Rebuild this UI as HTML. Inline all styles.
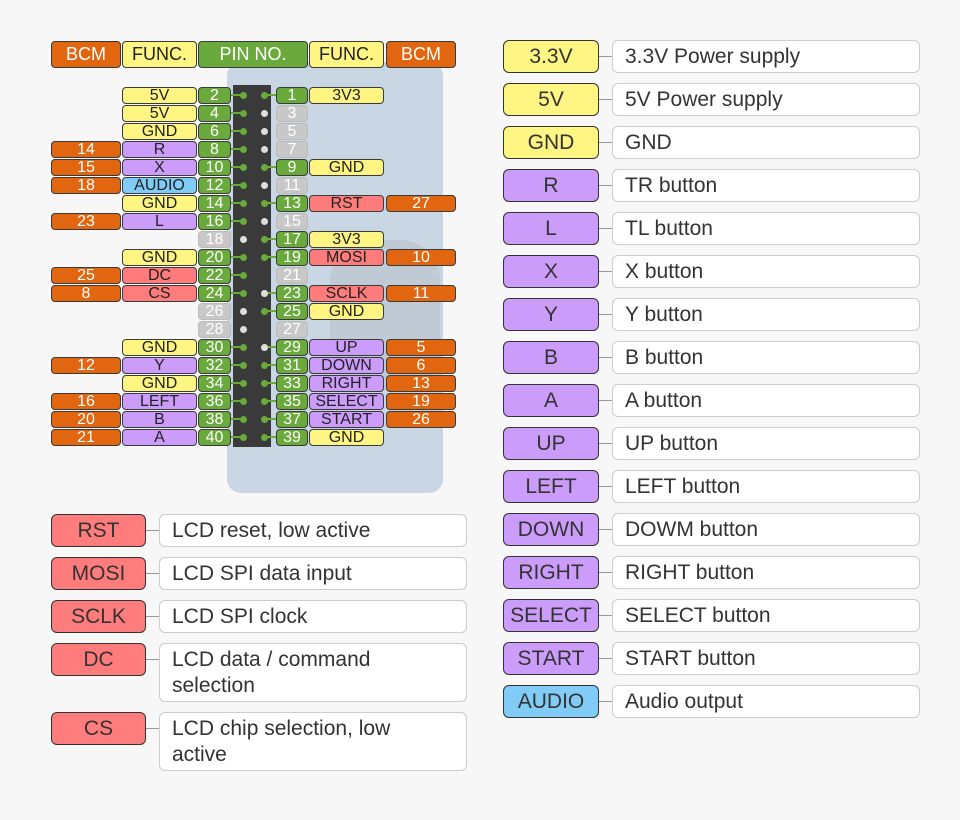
<!DOCTYPE html>
<html><head><meta charset="utf-8"><style>
body{margin:0;width:960px;height:820px;background:#f7f7f7;position:relative;overflow:hidden;font-family:"Liberation Sans","DejaVu Sans",sans-serif}
div{position:absolute;box-sizing:border-box}
.b{height:17px;border:1px solid #3a3a3a;border-radius:4px;text-align:center;font-size:16px;line-height:15px;color:#222}
.o{background:#e2650f;color:#fff}.y{background:#fff583}.g{background:#6aaa3c;color:#fff}.p{background:#cc9cfb}.u{background:#80ccf6}.r{background:#fe7c7c}.x{background:#c8c8c8;color:#fff;border-color:#bbb}
.bl{left:51px;width:70px}.fl{left:122px;width:75px}.pl{left:198px;width:33px}
.pr{left:276px;width:32px}.fr{left:309px;width:75px}.br{left:386px;width:70px}
.h{top:41px;height:27px;font-size:18px;line-height:25px}
.ll{height:2px;background:#6aaa3c}
.d{width:7px;height:7px;border-radius:50%;background:#6aaa3c}
.c{height:33px;border:1px solid #333;border-radius:6px;text-align:center;font-size:21px;line-height:31px;color:#333}
.t{height:33px;border:1px solid #ccc;border-radius:6px;background:#fff;font-size:21px;line-height:31px;padding-left:12px;color:#333}
.k{height:1px;background:#999}
</style></head><body>
<div style="left:227px;top:62px;width:216px;height:431px;background:#c9d6e3;border-radius:14px"></div>
<div style="left:330px;top:240px;width:110px;height:150px;background:#b9c2cb;border-radius:40px;opacity:.6"></div>
<div style="left:233px;top:85px;width:38px;height:362px;background:#3a3a3a"></div>
<div class="b o bl h">BCM</div><div class="b y fl h">FUNC.</div>
<div class="b g h" style="left:198px;width:110px">PIN NO.</div>
<div class="b y fr h">FUNC.</div><div class="b o br h">BCM</div>
<div class="b y fl" style="top:87px">5V</div><div class="b g pl" style="top:87px">2</div><div class="b g pr" style="top:87px">1</div><div class="b y fr" style="top:87px">3V3</div>
<div class="b y fl" style="top:105px">5V</div><div class="b g pl" style="top:105px">4</div><div class="b x pr" style="top:105px">3</div>
<div class="b y fl" style="top:123px">GND</div><div class="b g pl" style="top:123px">6</div><div class="b x pr" style="top:123px">5</div>
<div class="b o bl" style="top:141px">14</div><div class="b p fl" style="top:141px">R</div><div class="b g pl" style="top:141px">8</div><div class="b x pr" style="top:141px">7</div>
<div class="b o bl" style="top:159px">15</div><div class="b p fl" style="top:159px">X</div><div class="b g pl" style="top:159px">10</div><div class="b g pr" style="top:159px">9</div><div class="b y fr" style="top:159px">GND</div>
<div class="b o bl" style="top:177px">18</div><div class="b u fl" style="top:177px">AUDIO</div><div class="b g pl" style="top:177px">12</div><div class="b x pr" style="top:177px">11</div>
<div class="b y fl" style="top:195px">GND</div><div class="b g pl" style="top:195px">14</div><div class="b g pr" style="top:195px">13</div><div class="b r fr" style="top:195px">RST</div><div class="b o br" style="top:195px">27</div>
<div class="b o bl" style="top:213px">23</div><div class="b p fl" style="top:213px">L</div><div class="b g pl" style="top:213px">16</div><div class="b x pr" style="top:213px">15</div>
<div class="b x pl" style="top:231px">18</div><div class="b g pr" style="top:231px">17</div><div class="b y fr" style="top:231px">3V3</div>
<div class="b y fl" style="top:249px">GND</div><div class="b g pl" style="top:249px">20</div><div class="b g pr" style="top:249px">19</div><div class="b r fr" style="top:249px">MOSI</div><div class="b o br" style="top:249px">10</div>
<div class="b o bl" style="top:267px">25</div><div class="b r fl" style="top:267px">DC</div><div class="b g pl" style="top:267px">22</div><div class="b x pr" style="top:267px">21</div>
<div class="b o bl" style="top:285px">8</div><div class="b r fl" style="top:285px">CS</div><div class="b g pl" style="top:285px">24</div><div class="b g pr" style="top:285px">23</div><div class="b r fr" style="top:285px">SCLK</div><div class="b o br" style="top:285px">11</div>
<div class="b x pl" style="top:303px">26</div><div class="b g pr" style="top:303px">25</div><div class="b y fr" style="top:303px">GND</div>
<div class="b x pl" style="top:321px">28</div><div class="b x pr" style="top:321px">27</div>
<div class="b y fl" style="top:339px">GND</div><div class="b g pl" style="top:339px">30</div><div class="b g pr" style="top:339px">29</div><div class="b p fr" style="top:339px">UP</div><div class="b o br" style="top:339px">5</div>
<div class="b o bl" style="top:357px">12</div><div class="b p fl" style="top:357px">Y</div><div class="b g pl" style="top:357px">32</div><div class="b g pr" style="top:357px">31</div><div class="b p fr" style="top:357px">DOWN</div><div class="b o br" style="top:357px">6</div>
<div class="b y fl" style="top:375px">GND</div><div class="b g pl" style="top:375px">34</div><div class="b g pr" style="top:375px">33</div><div class="b p fr" style="top:375px">RIGHT</div><div class="b o br" style="top:375px">13</div>
<div class="b o bl" style="top:393px">16</div><div class="b p fl" style="top:393px">LEFT</div><div class="b g pl" style="top:393px">36</div><div class="b g pr" style="top:393px">35</div><div class="b p fr" style="top:393px">SELECT</div><div class="b o br" style="top:393px">19</div>
<div class="b o bl" style="top:411px">20</div><div class="b p fl" style="top:411px">B</div><div class="b g pl" style="top:411px">38</div><div class="b g pr" style="top:411px">37</div><div class="b p fr" style="top:411px">START</div><div class="b o br" style="top:411px">26</div>
<div class="b o bl" style="top:429px">21</div><div class="b p fl" style="top:429px">A</div><div class="b g pl" style="top:429px">40</div><div class="b g pr" style="top:429px">39</div><div class="b y fr" style="top:429px">GND</div>
<div class="ll" style="left:231px;top:94px;width:12px;box-shadow:0 18px #6aaa3c,0 36px #6aaa3c,0 54px #6aaa3c,0 72px #6aaa3c,0 90px #6aaa3c,0 108px #6aaa3c,0 126px #6aaa3c,0 162px #6aaa3c,0 180px #6aaa3c,0 198px #6aaa3c,0 252px #6aaa3c,0 270px #6aaa3c,0 288px #6aaa3c,0 306px #6aaa3c,0 324px #6aaa3c,0 342px #6aaa3c"></div>
<div class="d" style="left:240px;top:92px;box-shadow:0 18px #6aaa3c,0 36px #6aaa3c,0 54px #6aaa3c,0 72px #6aaa3c,0 90px #6aaa3c,0 108px #6aaa3c,0 126px #6aaa3c,0 162px #6aaa3c,0 180px #6aaa3c,0 198px #6aaa3c,0 252px #6aaa3c,0 270px #6aaa3c,0 288px #6aaa3c,0 306px #6aaa3c,0 324px #6aaa3c,0 342px #6aaa3c"></div>
<div class="d" style="left:240px;top:236px;background:#ddd;box-shadow:0 72px #ddd,0 90px #ddd"></div>
<div class="ll" style="left:264px;top:94px;width:12px;box-shadow:0 72px #6aaa3c,0 108px #6aaa3c,0 144px #6aaa3c,0 162px #6aaa3c,0 198px #6aaa3c,0 216px #6aaa3c,0 252px #6aaa3c,0 270px #6aaa3c,0 288px #6aaa3c,0 306px #6aaa3c,0 324px #6aaa3c,0 342px #6aaa3c"></div>
<div class="d" style="left:261px;top:92px;box-shadow:0 72px #6aaa3c,0 108px #6aaa3c,0 144px #6aaa3c,0 162px #6aaa3c,0 198px #6aaa3c,0 216px #6aaa3c,0 252px #6aaa3c,0 270px #6aaa3c,0 288px #6aaa3c,0 306px #6aaa3c,0 324px #6aaa3c,0 342px #6aaa3c"></div>
<div class="d" style="left:261px;top:110px;background:#ddd;box-shadow:0 18px #ddd,0 36px #ddd,0 72px #ddd,0 108px #ddd,0 180px #ddd,0 234px #ddd"></div>
<div class="k" style="left:145px;top:530px;width:14px"></div><div class="c r" style="left:51px;top:514px;width:95px">RST</div><div class="t" style="left:159px;top:514px;width:308px">LCD reset, low active</div>
<div class="k" style="left:145px;top:573px;width:14px"></div><div class="c r" style="left:51px;top:557px;width:95px">MOSI</div><div class="t" style="left:159px;top:557px;width:308px">LCD SPI data input</div>
<div class="k" style="left:145px;top:616px;width:14px"></div><div class="c r" style="left:51px;top:600px;width:95px">SCLK</div><div class="t" style="left:159px;top:600px;width:308px">LCD SPI clock</div>
<div class="k" style="left:145px;top:659px;width:14px"></div><div class="c r" style="left:51px;top:643px;width:95px">DC</div><div class="t" style="left:159px;top:643px;width:308px;height:59px;line-height:26px;padding-top:3px;padding-right:90px">LCD data / command selection</div>
<div class="k" style="left:145px;top:728px;width:14px"></div><div class="c r" style="left:51px;top:712px;width:95px">CS</div><div class="t" style="left:159px;top:712px;width:308px;height:59px;line-height:26px;padding-top:3px;padding-right:60px">LCD chip selection, low active</div>
<div class="k" style="left:598px;top:56px;width:14px;box-shadow:0 43px #999,0 86px #999,0 129px #999,0 172px #999,0 215px #999,0 258px #999,0 301px #999,0 344px #999,0 387px #999,0 430px #999,0 473px #999,0 516px #999,0 559px #999,0 602px #999,0 645px #999"></div>
<div class="c y" style="left:503px;top:40px;width:96px">3.3V</div><div class="t" style="left:612px;top:40px;width:308px">3.3V Power supply</div>
<div class="c y" style="left:503px;top:83px;width:96px">5V</div><div class="t" style="left:612px;top:83px;width:308px">5V Power supply</div>
<div class="c y" style="left:503px;top:126px;width:96px">GND</div><div class="t" style="left:612px;top:126px;width:308px">GND</div>
<div class="c p" style="left:503px;top:169px;width:96px">R</div><div class="t" style="left:612px;top:169px;width:308px">TR button</div>
<div class="c p" style="left:503px;top:212px;width:96px">L</div><div class="t" style="left:612px;top:212px;width:308px">TL button</div>
<div class="c p" style="left:503px;top:255px;width:96px">X</div><div class="t" style="left:612px;top:255px;width:308px">X button</div>
<div class="c p" style="left:503px;top:298px;width:96px">Y</div><div class="t" style="left:612px;top:298px;width:308px">Y button</div>
<div class="c p" style="left:503px;top:341px;width:96px">B</div><div class="t" style="left:612px;top:341px;width:308px">B button</div>
<div class="c p" style="left:503px;top:384px;width:96px">A</div><div class="t" style="left:612px;top:384px;width:308px">A button</div>
<div class="c p" style="left:503px;top:427px;width:96px">UP</div><div class="t" style="left:612px;top:427px;width:308px">UP button</div>
<div class="c p" style="left:503px;top:470px;width:96px">LEFT</div><div class="t" style="left:612px;top:470px;width:308px">LEFT button</div>
<div class="c p" style="left:503px;top:513px;width:96px">DOWN</div><div class="t" style="left:612px;top:513px;width:308px">DOWM button</div>
<div class="c p" style="left:503px;top:556px;width:96px">RIGHT</div><div class="t" style="left:612px;top:556px;width:308px">RIGHT button</div>
<div class="c p" style="left:503px;top:599px;width:96px">SELECT</div><div class="t" style="left:612px;top:599px;width:308px">SELECT button</div>
<div class="c p" style="left:503px;top:642px;width:96px">START</div><div class="t" style="left:612px;top:642px;width:308px">START button</div>
<div class="c u" style="left:503px;top:685px;width:96px">AUDIO</div><div class="t" style="left:612px;top:685px;width:308px">Audio output</div>
</body></html>
